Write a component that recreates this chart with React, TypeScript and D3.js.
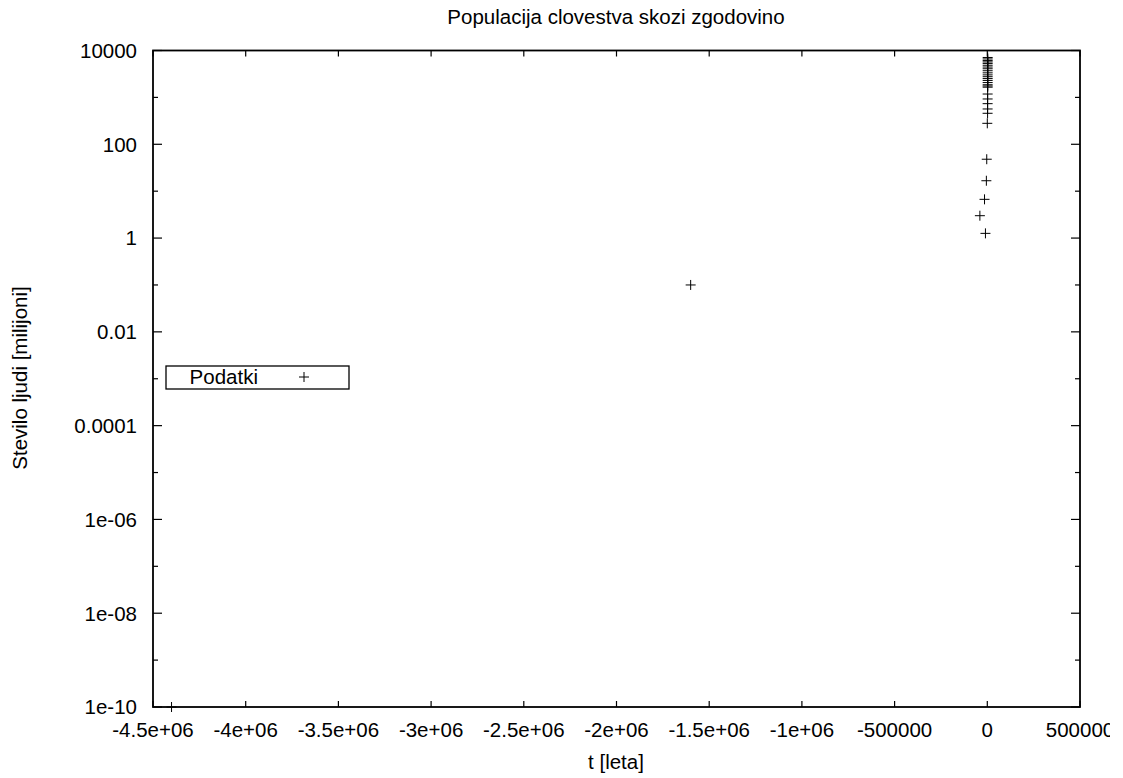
import * as d3 from 'd3';
import React from "react";

// populacija v milijonih, leto (pr. n. st. negativno)
const years = [
  -4400000, -1600000,
  -10000, -40000, -15000, -5000, -3000,
  1, 1500, 1700, 1750, 1800, 1850,
  1900, 1910, 1920, 1930, 1940, 1950, 1955, 1960, 1965, 1970, 1975,
  1980, 1985, 1990, 1995, 2000, 2005, 2010,
];
const population = [
  1e-10, 0.1,
  1.26, 3.0, 6.7, 16.7, 48,
  280, 458, 566, 735, 925, 1180,
  1650, 1750, 1860, 2070, 2300, 2520, 2760, 3020, 3340, 3700, 4080,
  4440, 4850, 5300, 5700, 6100, 6600, 7100,
];

const xTicks = [-4500000, -4000000, -3500000, -3000000, -2500000, -2000000, -1500000, -1000000, -500000, 0, 500000];
const xTickLabels = ["-4.5e+06", "-4e+06", "-3.5e+06", "-3e+06", "-2.5e+06", "-2e+06", "-1.5e+06", "-1e+06", "-500000", "0", "500000"];
const yTicks = [1e4, 1e2, 1, 1e-2, 1e-4, 1e-6, 1e-8, 1e-10];
const yTickLabels = ["10000", "100", "1", "0.01", "0.0001", "1e-06", "1e-08", "1e-10"];
const yMinorTicks = [1e3, 10, 0.1, 1e-3, 1e-5, 1e-7, 1e-9];

const title = "Populacija clovestva skozi zgodovino";
const xLabel = "t [leta]";
const yLabel = "Stevilo ljudi [milijoni]";
const legendLabel = "Podatki";

const left = 153, right = 1080, top = 50.5, bottom = 707;
const font = "'Liberation Sans', Arial, sans-serif";
const fs = 20.5;

export default function App() {
  const x = d3.scaleLinear().domain([-4500000, 500000]).range([left, right]);
  const y = d3.scaleLog().domain([1e-10, 1e4]).range([bottom, top]);

  const plus = (cx: number, cy: number, k: string) => (
    <path key={k} d={`M${cx - 5},${cy}h10M${cx},${cy - 5}v10`} stroke="#000" strokeWidth={1} fill="none" />
  );

  return (
    <svg width={1110} height={778} style={{ position: 'absolute', left: 0, top: 0, background: '#fff' }}
      fontFamily={font} fontSize={fs}>
      <rect x={0} y={0} width={1110} height={778} fill="#fff" />
      {/* ticks */}
      <g stroke="#000" strokeWidth={1.2}>
        {xTicks.map((t, i) => (
          <g key={'xt' + i}>
            <line x1={x(t)} x2={x(t)} y1={bottom} y2={bottom - 6} />
            <line x1={x(t)} x2={x(t)} y1={top} y2={top + 6} />
          </g>
        ))}
        {yTicks.map((t, i) => (
          <g key={'yt' + i}>
            <line x1={left} x2={left + 9} y1={y(t)} y2={y(t)} />
            <line x1={right} x2={right - 9} y1={y(t)} y2={y(t)} />
          </g>
        ))}
        {yMinorTicks.map((t, i) => (
          <g key={'ym' + i}>
            <line x1={left} x2={left + 5} y1={y(t)} y2={y(t)} />
            <line x1={right} x2={right - 5} y1={y(t)} y2={y(t)} />
          </g>
        ))}
      </g>
      {/* tick labels */}
      {xTicks.map((t, i) => (
        <text key={'xl' + i} x={x(t)} y={737} textAnchor="middle">{xTickLabels[i]}</text>
      ))}
      {yTicks.map((t, i) => (
        <text key={'yl' + i} x={137} y={y(t)} dy="0.36em" textAnchor="end">{yTickLabels[i]}</text>
      ))}
      {/* data */}
      {years.map((yr, i) => plus(x(yr), y(population[i]), 'p' + i))}
      {/* legend */}
      <rect x={166} y={366} width={183} height={23} fill="none" stroke="#000" strokeWidth={1.3} />
      <text x={258} y={377} dy="0.36em" textAnchor="end">{legendLabel}</text>
      {plus(304, 377, 'leg')}
      {/* border */}
      <rect x={left} y={top} width={right - left} height={bottom - top} fill="none" stroke="#000" strokeWidth={1.8} />
      {/* labels */}
      <text x={616} y={17} dy="0.36em" textAnchor="middle">{title}</text>
      <text x={616} y={762} dy="0.36em" textAnchor="middle">{xLabel}</text>
      <text transform={`translate(20,378) rotate(-90)`} dy="0.36em" textAnchor="middle">{yLabel}</text>
    </svg>
  );
}
